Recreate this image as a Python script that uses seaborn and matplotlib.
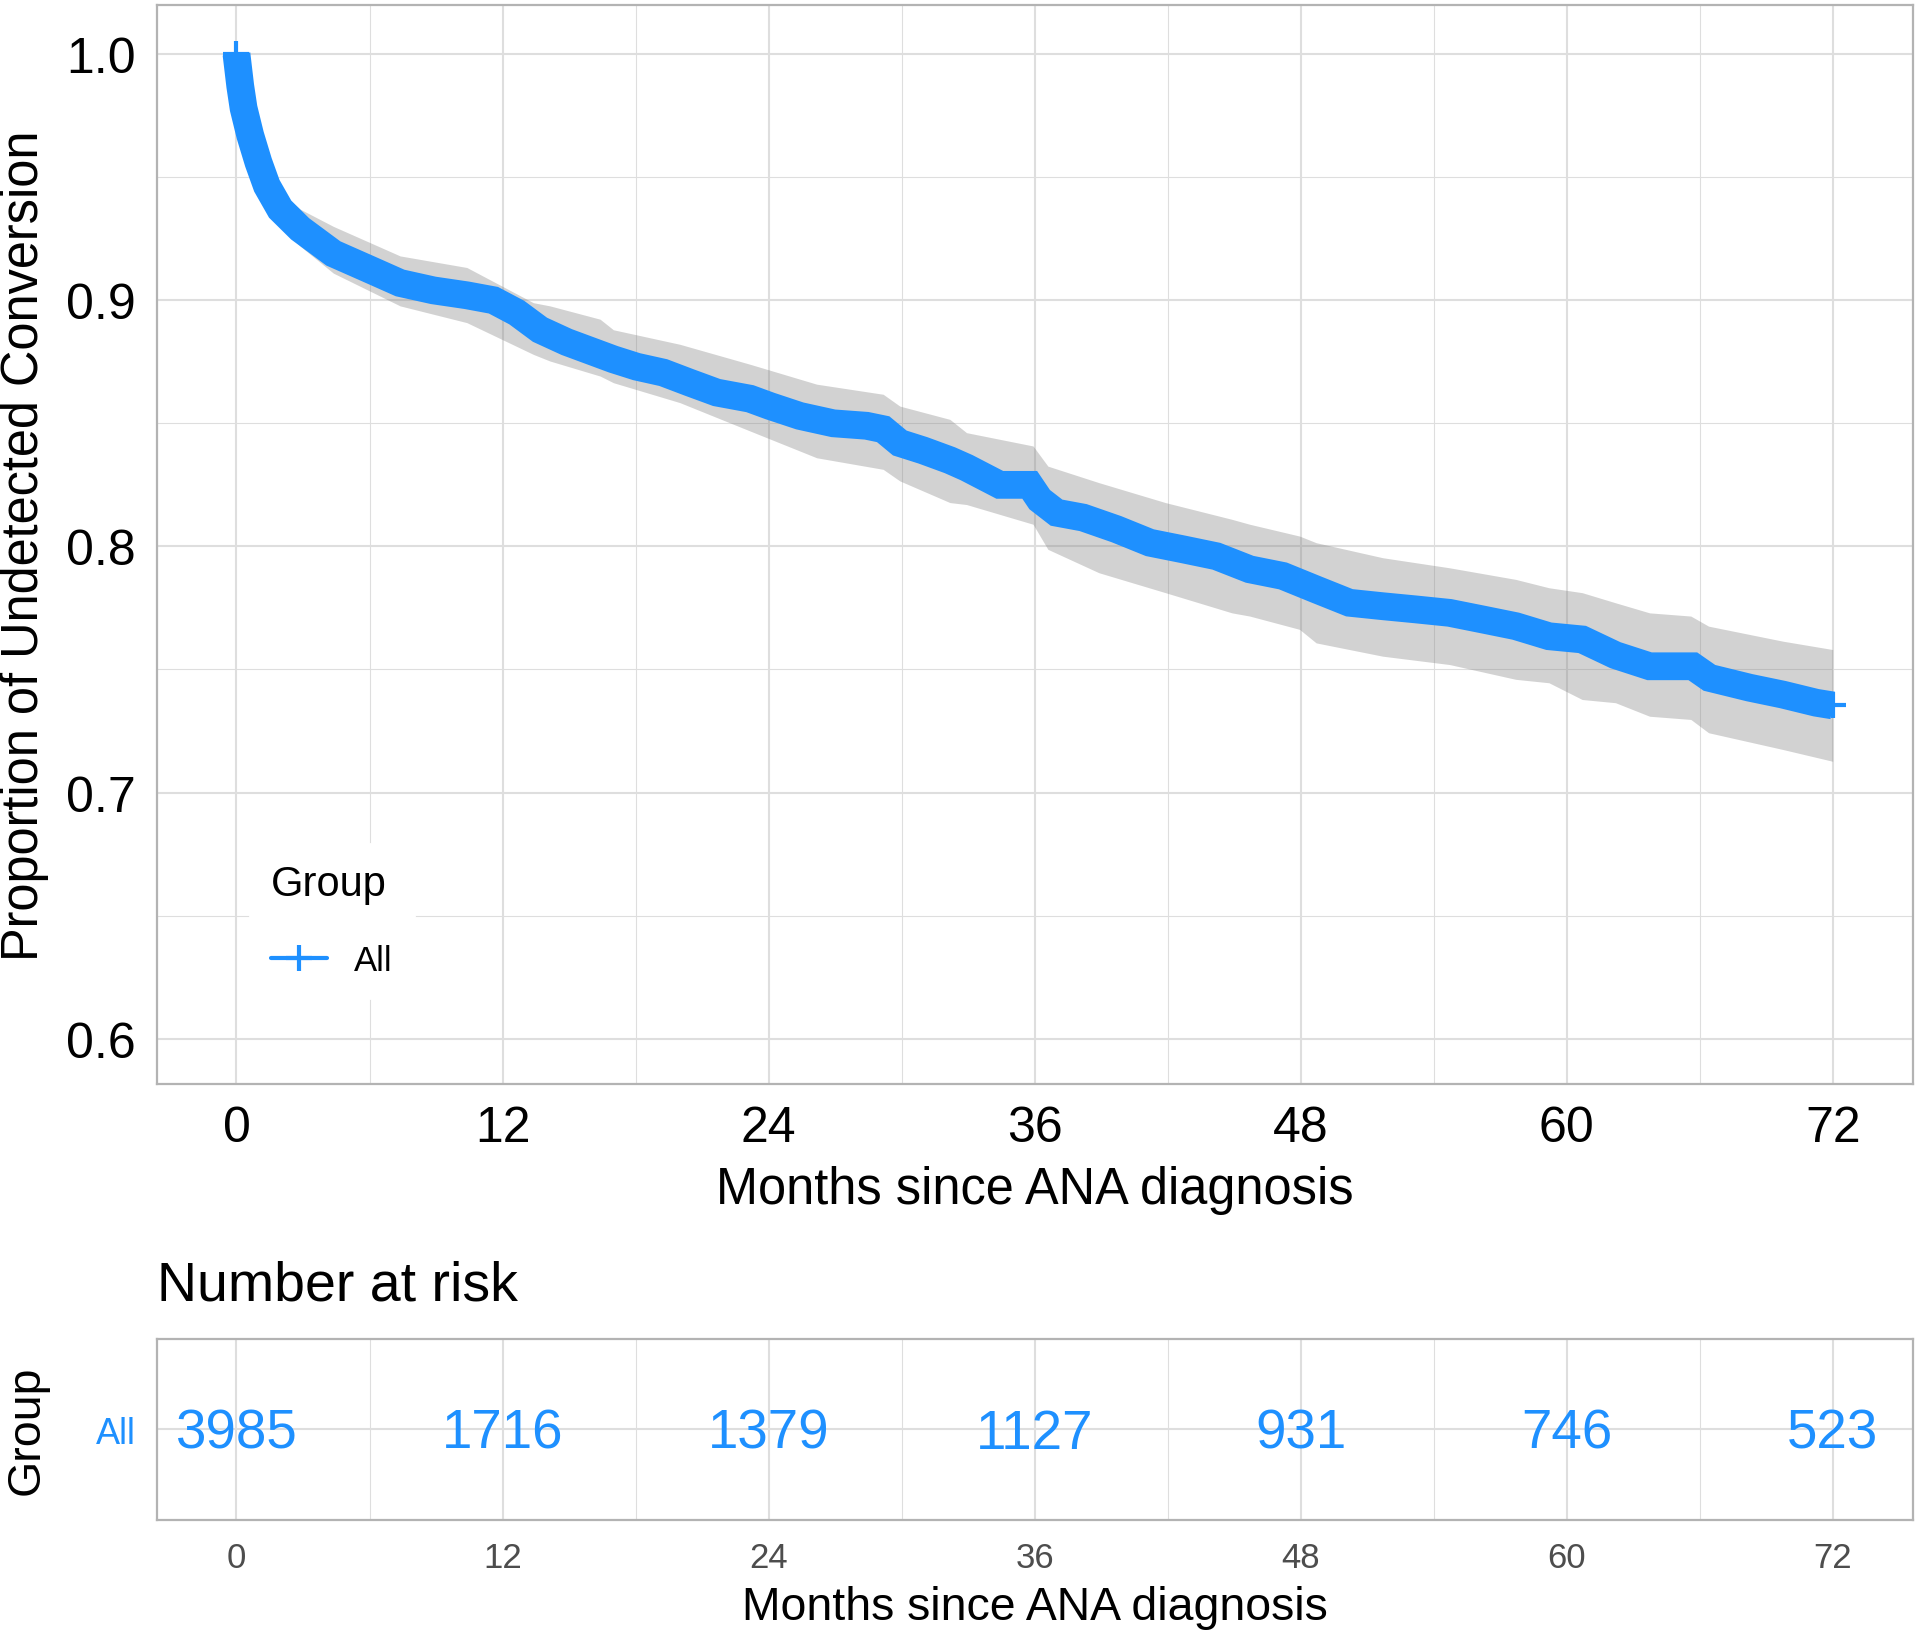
import numpy as np
import pandas as pd
import seaborn as sns
import matplotlib.pyplot as plt
from matplotlib.lines import Line2D
from matplotlib.ticker import MultipleLocator, FormatStrFormatter

# Kaplan-Meier estimate (months, proportion)
months = [0, 0.17, 0.32, 0.62, 0.99, 1.37, 1.97, 2.87, 4.37, 5.88, 7.38, 8.88,
          10.39, 11.59, 12.64, 13.69, 14.9, 16.4, 17.0, 18.05, 19.25, 20.45,
          21.66, 23.16, 24.07, 25.41, 26.92, 28.42, 29.17, 29.92, 30.97, 32.18,
          32.93, 34.43, 35.78, 36.23, 36.99, 38.19, 39.69, 41.2, 42.7, 44.2,
          45.7, 47.2, 48.7, 50.2, 51.7, 53.2, 54.72, 56.22, 57.7, 59.2, 60.7,
          62.2, 63.74, 65.69, 66.44, 68.25, 69.75, 71.25, 72.0]
surv = [1.000, 0.987, 0.978, 0.967, 0.956, 0.9465, 0.937, 0.929, 0.919, 0.913,
        0.907, 0.904, 0.902, 0.900, 0.895, 0.888, 0.883, 0.878, 0.876, 0.873,
        0.8706, 0.8665, 0.8625, 0.860, 0.857, 0.853, 0.850, 0.849, 0.8476,
        0.842, 0.839, 0.835, 0.832, 0.825, 0.825, 0.819, 0.8137, 0.8117, 0.807,
        0.8015, 0.7988, 0.796, 0.7907, 0.788, 0.7825, 0.7771, 0.7757, 0.7744,
        0.773, 0.7703, 0.7676, 0.7635, 0.7622, 0.7558, 0.7513, 0.7513, 0.7466,
        0.7426, 0.7398, 0.7365, 0.7354]

# confidence band
ci_months = [0, 0.5, 1.0, 1.5, 1.97, 2.87, 4.37, 7.38, 10.39, 13.39, 14.14, 16.4,
             17.0, 20.0, 23.16, 26.17, 29.17, 29.92, 32.18, 32.93, 35.93, 36.6,
             38.9, 41.9, 44.9, 45.7, 47.95, 48.7, 51.7, 54.72, 57.7, 59.2, 60.7,
             62.2, 63.74, 65.6, 66.4, 69.75, 72.0]
ci_lower = [1.0, 0.962, 0.948, 0.938, 0.930, 0.922, 0.911, 0.8977, 0.8909, 0.878,
            0.8753, 0.8692, 0.8665, 0.8584, 0.8469, 0.836, 0.8313, 0.8266, 0.8178,
            0.817, 0.809, 0.7988, 0.7893, 0.7812, 0.773, 0.7717, 0.7663, 0.7608,
            0.7554, 0.752, 0.746, 0.7446, 0.7378, 0.7365, 0.731, 0.7297, 0.7243,
            0.7175, 0.7127]
ci_upper = [1.0, 0.978, 0.964, 0.953, 0.944, 0.937, 0.930, 0.918, 0.9133, 0.899,
            0.8977, 0.8923, 0.888, 0.8821, 0.874, 0.8659, 0.8618, 0.857, 0.8516,
            0.8462, 0.8408, 0.8326, 0.8259, 0.8178, 0.811, 0.809, 0.8042, 0.8015,
            0.7954, 0.7913, 0.7866, 0.7832, 0.7812, 0.7771, 0.773, 0.7717, 0.7676,
            0.7615, 0.7581]

risk_months = [0, 12, 24, 36, 48, 60, 72]
risk_counts = [3985, 1716, 1379, 1127, 931, 746, 523]
group = 'All'

sns.set_theme(style='whitegrid')
plt.rcParams['font.family'] = ['Liberation Sans', 'DejaVu Sans']
plt.rcParams['text.color'] = 'black'
plt.rcParams['axes.labelcolor'] = 'black'

blue = '#1E90FF'
border = '#B3B3B3'
grid = '#DEDEDE'
xlim = (-3.6, 75.6)

fig = plt.figure(figsize=(9.6, 8.2), dpi=200)
ax = fig.add_axes([0.0816, 0.3384, 0.9145, 0.6579])

ax.fill_between(ci_months, ci_lower, ci_upper, color='#808080',
                alpha=0.35, linewidth=0, zorder=2)

km = pd.DataFrame({'Months': months, 'Survival': surv, 'Group': group})
sns.lineplot(data=km, x='Months', y='Survival', color=blue, linewidth=10,
             estimator=None, sort=False, legend=False,
             solid_capstyle='butt', solid_joinstyle='miter', ax=ax, zorder=3)
ax.plot(months, surv, ls='none', marker='+', ms=9.7, mew=1.5, color=blue, zorder=3)

ax.set_xlim(*xlim)
ax.set_ylim(0.5816, 1.0199)
ax.xaxis.set_major_locator(MultipleLocator(12))
ax.xaxis.set_minor_locator(MultipleLocator(6))
ax.yaxis.set_major_locator(MultipleLocator(0.1))
ax.yaxis.set_minor_locator(MultipleLocator(0.05))
ax.yaxis.set_major_formatter(FormatStrFormatter('%.1f'))
ax.grid(True, which='major', color=grid, linewidth=0.75)
ax.grid(True, which='minor', color=grid, linewidth=0.4)
ax.set_axisbelow(True)
for s in ax.spines.values():
    s.set_color(border)
    s.set_linewidth(0.8)
ax.tick_params(which='major', length=3.6, width=0.7, color='#222222',
               labelsize=18, labelcolor='black', pad=4)
ax.tick_params(which='minor', length=0)
ax.set_xlabel('Months since ANA diagnosis', fontsize=18.2, labelpad=5)
ax.set_ylabel('Proportion of Undetected Conversion', fontsize=18.2)
ax.yaxis.set_label_coords(-0.0615, 0.5)

handle = Line2D([], [], color=blue, marker='+', ms=9.7, mew=1.5, linewidth=1.5)
leg = ax.legend(handles=[handle], labels=[group], title='Group', loc='upper left',
                bbox_to_anchor=(0.0434, 0.239), frameon=True, fontsize=12.5,
                title_fontsize=15, handlelength=1.6, alignment='left',
                borderpad=0.6, labelspacing=1.15)
leg.get_frame().set_facecolor('white')
leg.get_frame().set_edgecolor('white')
leg.get_frame().set_alpha(1)

# risk table
ax2 = fig.add_axes([0.0816, 0.0727, 0.9145, 0.1105])
risk = pd.DataFrame({'Months': risk_months, 'n': risk_counts, 'Group': group})
for _, r in risk.iterrows():
    ax2.text(r['Months'], -0.03, str(r['n']), ha='center', va='center',
             fontsize=19.7, color=blue)
ax2.set_xlim(*xlim)
ax2.set_ylim(-0.6, 0.6)
ax2.set_yticks([0])
ax2.set_yticklabels([group])
ax2.xaxis.set_major_locator(MultipleLocator(12))
ax2.xaxis.set_minor_locator(MultipleLocator(6))
ax2.grid(True, which='major', color=grid, linewidth=0.75)
ax2.grid(True, which='minor', axis='x', color=grid, linewidth=0.4)
for s in ax2.spines.values():
    s.set_color(border)
    s.set_linewidth(0.8)
ax2.tick_params(which='major', length=3.6, width=0.7, color=border,
                labelsize=12.5, labelcolor='#4D4D4D', pad=4)
ax2.tick_params(axis='y', labelcolor=blue, labelsize=13)
ax2.tick_params(which='minor', length=0)
ax2.set_xlabel('Months since ANA diagnosis', fontsize=16.7, labelpad=4)
ax2.set_ylabel('Group', fontsize=16.8)
ax2.yaxis.set_label_coords(-0.0615, 0.5)
ax2.set_title('Number at risk', loc='left', fontsize=20, pad=14)

fig.savefig('out.png', dpi=200)
